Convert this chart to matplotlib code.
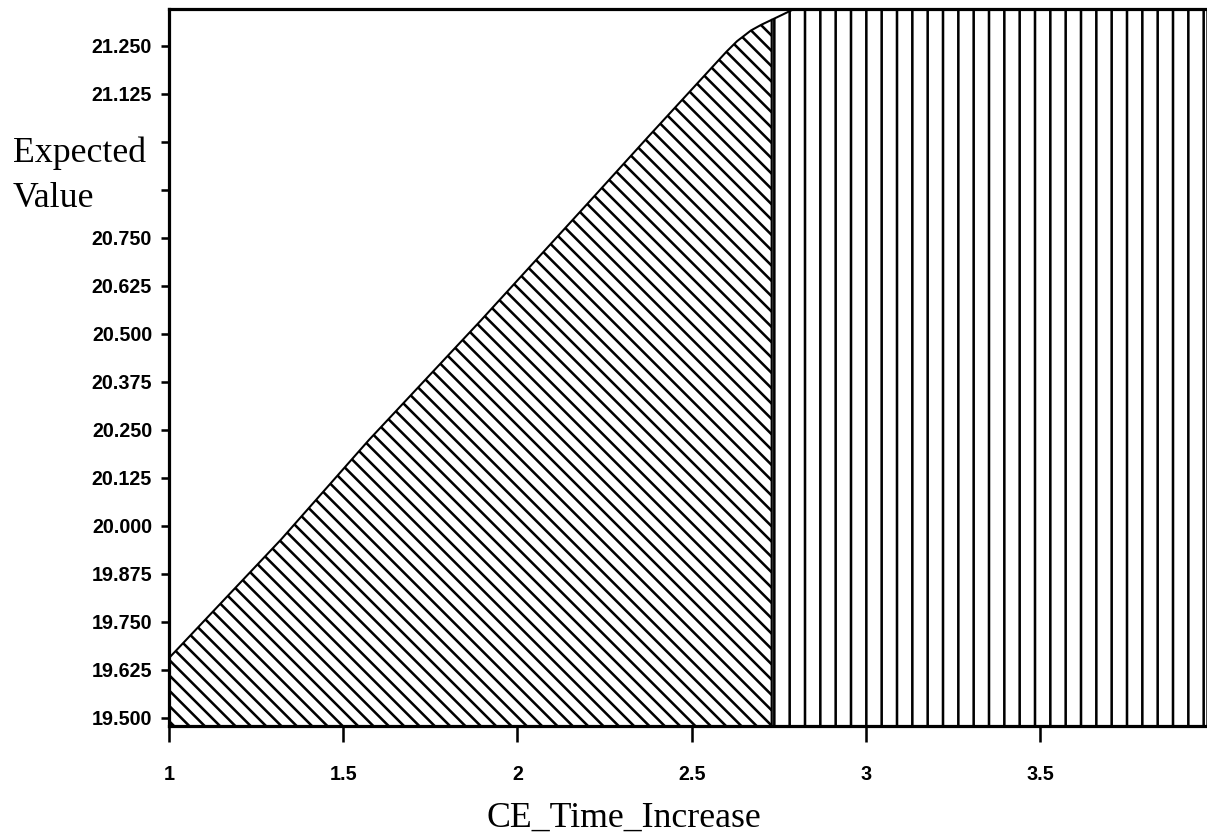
import matplotlib
matplotlib.use("Agg")
import matplotlib.pyplot as plt
import numpy as np

# Expected value (x = CE_Time_Increase)
ce_time = [1.0, 1.321, 1.574, 1.896, 2.211, 2.375, 2.60, 2.63, 2.67, 2.70, 2.73, 2.76, 2.794, 3.0, 3.5, 3.98]
expected = [19.656, 19.964, 20.224, 20.536, 20.849, 21.013, 21.235, 21.262, 21.290, 21.305, 21.318,
            21.331, 21.346, 21.346, 21.346, 21.346]

# strategy switch point
switch_x = 2.73

x_ticks = [1, 1.5, 2, 2.5, 3, 3.5]
x_labels = ["1", "1.5", "2", "2.5", "3", "3.5"]
y_ticks = [19.5, 19.625, 19.75, 19.875, 20.0, 20.125, 20.25, 20.375, 20.5,
           20.625, 20.75, 20.875, 21.0, 21.125, 21.25]
y_labels = ["19.500", "19.625", "19.750", "19.875", "20.000", "20.125", "20.250", "20.375",
            "20.500", "20.625", "20.750", "", "", "21.125", "21.250"]

plt.rcParams['hatch.linewidth'] = 2.0

fig = plt.figure(figsize=(1207 / 92, 837 / 92), dpi=92)
ax = fig.add_axes([169 / 1207, 1 - 726 / 837, 1038 / 1207, 717 / 837])

x = np.array(ce_time)
y = np.array(expected)
base = 19.40
left = x <= switch_x
right = x >= switch_x

# left region (diagonal hatch) and right region (vertical hatch)
ax.fill_between(x[left], base, y[left], facecolor='white', edgecolor='black',
                hatch='\\\\', linewidth=1.6)
ax.fill_between(x[right], base, y[right], facecolor='white', edgecolor='black',
                hatch='|', linewidth=1.6)

ax.set_xlim(1.0, 3.979)
ax.set_ylim(19.479, 21.346)

ax.set_xticks(x_ticks)
ax.set_xticklabels(x_labels, fontsize=15.5, fontweight='bold', family='Liberation Sans')
ax.set_yticks(y_ticks)
ax.set_yticklabels(y_labels, fontsize=15.5, fontweight='bold', family='Liberation Sans')
ax.tick_params(axis='x', length=12.5, width=2, pad=18)
ax.tick_params(axis='y', length=6.3, width=2, pad=7)

for s in ['left', 'bottom', 'top']:
    ax.spines[s].set_linewidth(2.5)
ax.spines['right'].set_visible(False)

# axis labels in Times-like font
fig.text(13 / 1207, 1 - 162 / 837, "Expected", fontsize=28, family='Liberation Serif',
         ha='left', va='baseline')
fig.text(13 / 1207, 1 - 207 / 837, "Value", fontsize=28, family='Liberation Serif',
         ha='left', va='baseline')
fig.text(624 / 1207, 1 - 827 / 837, "CE_Time_Increase", fontsize=28, family='Liberation Serif',
         ha='center', va='baseline')

fig.savefig("out.png", dpi=92)
